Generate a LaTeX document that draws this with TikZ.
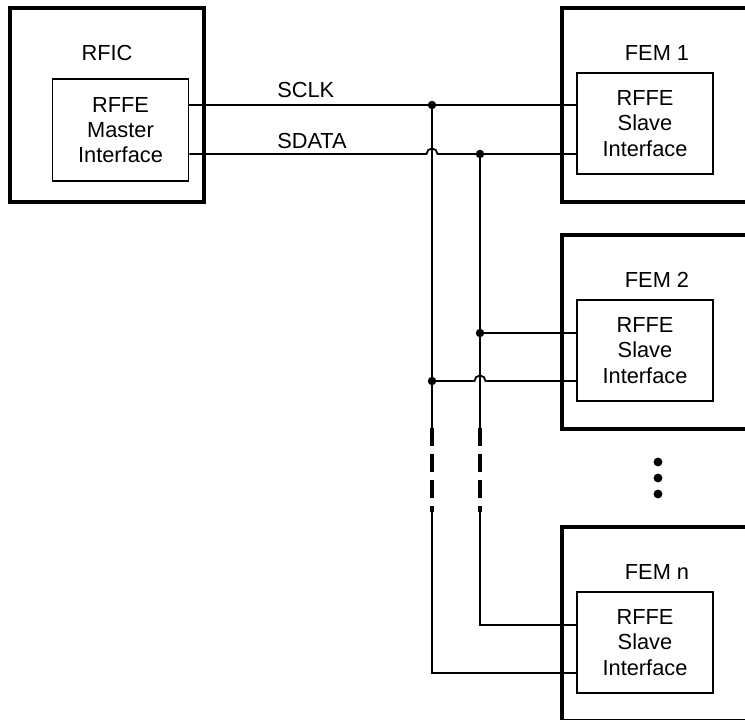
\documentclass[tikz,border=0pt]{standalone}
\usepackage{fontspec}
\setmainfont{Liberation Sans}
\usetikzlibrary{positioning}

\begin{document}
\begin{tikzpicture}[x=0.025cm,y=-0.025cm,
                    font=\fontsize{15.5}{18}\selectfont,
                    wire/.style={line width=1.3pt},
                    gapwire/.style={line width=2.3pt,dash pattern=on 0.45cm off 0.2cm},
                    chip/.style={draw,line width=2.8pt,minimum width=4.85cm,minimum height=4.86cm},
                    iface/.style={draw,line width=1.3pt,align=center,minimum width=3.4cm,minimum height=2.53cm},
                    lbl/.style={inner sep=0pt},
                    jdot/.style={circle,fill,inner sep=0pt,minimum size=0.21cm}]

  \useasboundingbox (0,0) rectangle (745,719);
  \clip (0,0) rectangle (745,719);

  % master side
  \node[chip] (rfic) at (107,105) {};
  \node[lbl] (rficlbl) at (107,53) {RFIC};
  \node[iface] (master) at (120.5,130) {RFFE\\Master\\Interface};

  % slave modules
  \node[chip,minimum width=5.5cm] (fem1) at (672,105) {};
  \node[lbl] (fem1lbl) at (657,53) {FEM 1};
  \node[iface] (slave1) at (645,123.5) {RFFE\\Slave\\Interface};

  \node[chip,minimum width=5.5cm] (fem2) at (672,332) {};
  \node[lbl] (fem2lbl) at (657,280) {FEM 2};
  \node[iface] (slave2) at (645,350.5) {RFFE\\Slave\\Interface};

  \node[chip,minimum width=5.5cm] (femn) at (672,624) {};
  \node[lbl] (femnlbl) at (657,572) {FEM n};
  \node[iface] (slaven) at (645,642.5) {RFFE\\Slave\\Interface};

  \foreach \y in {462,478,494}
    \node[jdot,minimum size=0.22cm] (more\y) at (658,\y) {};

  % bus levels and junctions
  \coordinate (clk1) at (0,105);
  \coordinate (dat1) at (0,154);
  \coordinate (dat2) at (0,333);
  \coordinate (clk2) at (0,381);
  \coordinate (datn) at (0,625);
  \coordinate (clkn) at (0,673);
  \coordinate (ja) at (432,105);
  \coordinate (jb) at (480,154);
  \coordinate (jc) at (480,333);
  \coordinate (jd) at (432,381);

  \node[lbl,anchor=west] (sclk) at (277,89.5) {SCLK};
  \node[lbl,anchor=west] (sdata) at (277,141) {SDATA};

  \draw[wire] (master.east |- clk1) -- (slave1.west |- clk1);
  \draw[wire] (master.east |- dat1) -- (426.5,154) arc (180:360:5.5)
              -- (slave1.west |- dat1);

  % clock riser
  \draw[wire] (ja) -- (432,428);
  \draw[gapwire] (432,428) -- (432,512);
  \draw[wire] (432,512) -- (432,673) -- (slaven.west |- clkn);
  \draw[wire] (jd) -- (474.5,381) arc (180:360:5.5) -- (slave2.west |- clk2);

  % data riser
  \draw[wire] (jb) -- (480,428);
  \draw[gapwire] (480,428) -- (480,512);
  \draw[wire] (480,512) -- (480,625) -- (slaven.west |- datn);
  \draw[wire] (jc) -- (slave2.west |- dat2);

  \foreach \j in {ja,jb,jc,jd}
    \node[jdot] (dot\j) at (\j) {};
\end{tikzpicture}
\end{document}
